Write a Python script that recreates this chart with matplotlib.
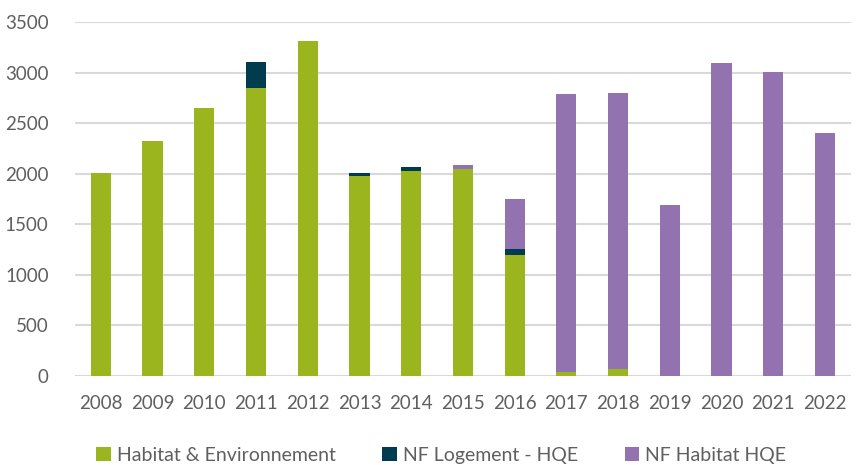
import matplotlib
matplotlib.use("Agg")
import matplotlib.pyplot as plt
import numpy as np

years = ["2008", "2009", "2010", "2011", "2012", "2013", "2014", "2015",
         "2016", "2017", "2018", "2019", "2020", "2021", "2022"]
habitat_env = [2005, 2325, 2645, 2845, 3310, 1980, 2027, 2050,
               1200, 40, 70, 0, 0, 0, 0]
nf_logement = [0, 0, 0, 260, 0, 25, 37, 0,
               55, 0, 0, 0, 0, 0, 0]
nf_habitat = [0, 0, 0, 0, 0, 0, 0, 33,
              492, 2746, 2726, 1688, 3092, 3006, 2403]

green = "#9BB51E"
dark = "#003B4F"
purple = "#9372B0"
txt = "#5f5f5f"

plt.rcParams['font.family'] = ['Lato', 'DejaVu Sans']

fig = plt.figure(figsize=(8.62, 4.65), dpi=100)
ax = fig.add_axes([0.087, 0.1914, 0.9, 0.7613])

x = np.arange(len(years))
w = 0.39
b1 = np.array(habitat_env)
b2 = b1 + np.array(nf_logement)
ax.bar(x, habitat_env, w, color=green, label="Habitat & Environnement", zorder=3)
ax.bar(x, nf_logement, w, bottom=b1, color=dark, label="NF Logement - HQE", zorder=3)
ax.bar(x, nf_habitat, w, bottom=b2, color=purple, label="NF Habitat HQE", zorder=3)

ax.set_xlim(-0.5, len(years) - 0.5)
ax.set_ylim(0, 3500)
ax.set_yticks(range(0, 3501, 500))
ax.set_xticks(x)
ax.set_xticklabels(years)
ax.grid(axis="y", color="#D9D9D9", linewidth=1.5, zorder=0)
for s in ax.spines.values():
    s.set_visible(False)
ax.tick_params(length=0, colors=txt, labelsize=13.5)
ax.tick_params(axis="y", pad=19)
ax.tick_params(axis="x", pad=14)

ax.legend(loc="upper center", bbox_to_anchor=(0.472, -0.15), ncol=3, frameon=False,
          fontsize=14, labelcolor=txt, handlelength=0.75, handleheight=0.75,
          handletextpad=0.3, columnspacing=2.4)

fig.savefig("out.png", dpi=100)
